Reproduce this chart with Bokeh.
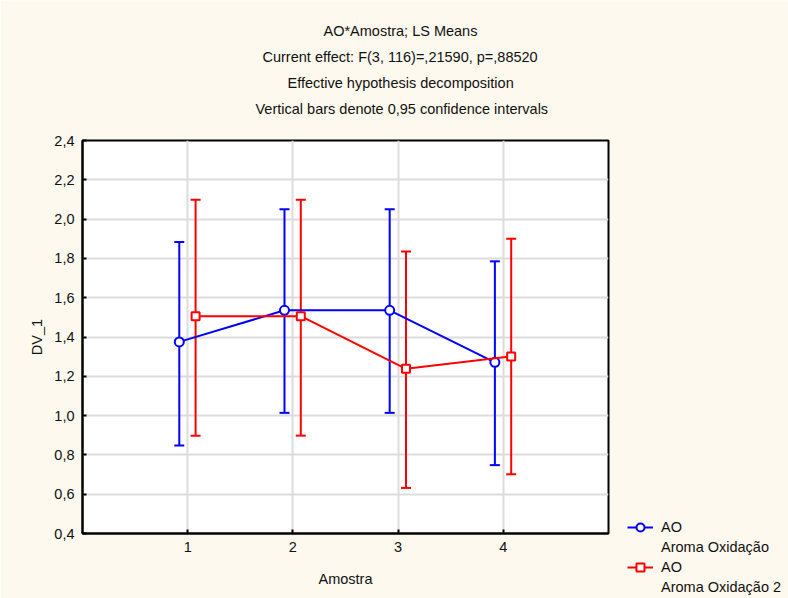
from bokeh.plotting import figure
from bokeh.models import (ColumnDataSource, Range1d, FixedTicker, CustomJSTickFormatter,
                          Whisker, TeeHead, Title, Legend, LegendItem)
from bokeh.transform import dodge
from bokeh.embed import file_html
from bokeh.resources import INLINE

# ---- data ----
amostra = [1, 2, 3, 4]
ao1_mean = [1.375, 1.536, 1.536, 1.271]
ao1_upper = [1.884, 2.050, 2.050, 1.785]
ao1_lower = [0.848, 1.014, 1.014, 0.748]
ao2_mean = [1.506, 1.506, 1.238, 1.301]
ao2_upper = [2.099, 2.099, 1.835, 1.900]
ao2_lower = [0.898, 0.898, 0.632, 0.701]
y_ticks = [0.4, 0.6, 0.8, 1.0, 1.2, 1.4, 1.6, 1.8, 2.0, 2.2, 2.4]
x_ticks = [1, 2, 3, 4]
title_lines = ["AO*Amostra; LS Means",
               "Current effect: F(3, 116)=,21590, p=,88520",
               "Effective hypothesis decomposition",
               "Vertical bars denote 0,95 confidence intervals"]
series_names = ["AO", "Aroma Oxidação", "AO", "Aroma Oxidação 2"]

FONT = "Liberation Sans"
FS = "14.5px"
BG = "#fdf9ee"
BLUE = "#0000ff"
RED = "#ff0000"

src1 = ColumnDataSource(dict(x=amostra, y=ao1_mean, upper=ao1_upper, lower=ao1_lower))
src2 = ColumnDataSource(dict(x=amostra, y=ao2_mean, upper=ao2_upper, lower=ao2_lower))

p = figure(frame_width=526, frame_height=393, output_backend="svg", toolbar_location=None,
           x_range=Range1d(0, 5), y_range=Range1d(0.4, 2.4),
           min_border_left=82, min_border_right=180, min_border_top=140, min_border_bottom=65)
p.title.visible = False
p.background_fill_color = "white"
p.border_fill_color = BG
p.outline_line_color = "black"
p.outline_line_width = 2

# spacer between the frame and the title block
p.add_layout(Title(text=" ", text_font=FONT, text_font_size=FS, standoff=2), "above")
# titles (added bottom line first so it sits nearest the frame); left offsets centre them on the page
title_offsets = [241, 180, 205, 173]
for i in reversed(range(len(title_lines))):
    ttl = Title(text=title_lines[i], align="left", offset=title_offsets[i], text_font=FONT,
                text_font_size=FS, text_font_style="normal", text_color="#111111", standoff=8)
    p.add_layout(ttl, "above")

# axes
p.xaxis.ticker = FixedTicker(ticks=x_ticks)
p.yaxis.ticker = FixedTicker(ticks=y_ticks)
p.yaxis.formatter = CustomJSTickFormatter(code="return tick.toFixed(1).replace('.', ',');")
for ax in (p.xaxis, p.yaxis):
    ax.axis_line_color = "black"
    ax.axis_line_width = 2
    ax.major_tick_in = 4
    ax.major_tick_out = 0
    ax.major_tick_line_color = "black"
    ax.major_tick_line_width = 2
    ax.minor_tick_line_color = None
    ax.major_label_text_font = FONT
    ax.major_label_text_font_size = FS
    ax.major_label_text_color = "#111111"
    ax.major_label_standoff = 8
    ax.axis_label_text_font = FONT
    ax.axis_label_text_font_size = FS
    ax.axis_label_text_font_style = "normal"
    ax.axis_label_text_color = "#111111"
p.xaxis.axis_label = "Amostra"
p.yaxis.axis_label = "DV_1"
p.xaxis.axis_label_standoff = 16
p.yaxis.axis_label_standoff = 6

p.grid.grid_line_color = "#dcdcdc"
p.grid.grid_line_width = 2

# series 1 (blue)
x1 = dodge("x", -0.08)
w1 = Whisker(base=x1, upper="upper", lower="lower", source=src1,
             line_color=BLUE, line_width=2,
             upper_head=TeeHead(size=10, line_color=BLUE, line_width=2),
             lower_head=TeeHead(size=10, line_color=BLUE, line_width=2))
p.add_layout(w1)
l1 = p.line(x=x1, y="y", source=src1, line_color=BLUE, line_width=2)
m1 = p.scatter(x=x1, y="y", source=src1, marker="circle", size=9,
               line_color=BLUE, line_width=2, fill_color="white")

# series 2 (red)
x2 = dodge("x", 0.075)
w2 = Whisker(base=x2, upper="upper", lower="lower", source=src2,
             line_color=RED, line_width=2,
             upper_head=TeeHead(size=10, line_color=RED, line_width=2),
             lower_head=TeeHead(size=10, line_color=RED, line_width=2))
p.add_layout(w2)
l2 = p.line(x=x2, y="y", source=src2, line_color=RED, line_width=2)
m2 = p.scatter(x=x2, y="y", source=src2, marker="square", size=8,
               line_color=RED, line_width=2, fill_color="white")

# invisible renderer for the second label lines
blank = p.scatter(x=x1, y="y", source=src1, marker="circle", size=1,
                  line_alpha=0, fill_alpha=0)

legend = Legend(items=[
    LegendItem(label=series_names[0], renderers=[l1, m1]),
    LegendItem(label=series_names[1], renderers=[blank]),
    LegendItem(label=series_names[2], renderers=[l2, m2]),
    LegendItem(label=series_names[3], renderers=[blank]),
], location=(14, -69), orientation="vertical",
    background_fill_alpha=0, border_line_alpha=0,
    label_text_font=FONT, label_text_font_size=FS, label_text_color="#111111",
    glyph_width=26, glyph_height=20, label_height=20, label_standoff=8,
    spacing=0, padding=5, margin=0)
p.add_layout(legend, "right")

open("out.html", "w").write(file_html(p, INLINE))
